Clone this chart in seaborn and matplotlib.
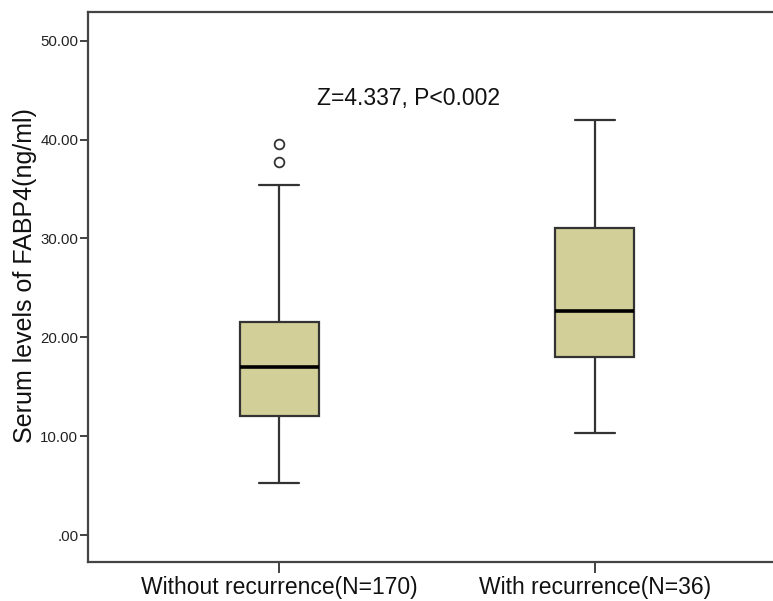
import numpy as np
import pandas as pd
import matplotlib
matplotlib.use("Agg")
import matplotlib.pyplot as plt
import seaborn as sns

# Group labels and five-number summaries (ng/ml)
groups = ["Without recurrence(N=170)", "With recurrence(N=36)"]
whisker_low = [5.3, 10.3]
q1 = [12.0, 18.0]
median = [17.0, 22.7]
q3 = [21.5, 31.1]
whisker_high = [35.4, 42.0]
outliers = [[37.7, 39.5], []]

y_ticks = [0, 10, 20, 30, 40, 50]
y_tick_labels = [".00", "10.00", "20.00", "30.00", "40.00", "50.00"]
annotation = "Z=4.337, P<0.002"
y_label = "Serum levels of FABP4(ng/ml)"

# Expand each summary into a sample whose quartiles reproduce it exactly
rows = []
for g, lo, a, m, b, hi, out in zip(groups, whisker_low, q1, median, q3,
                                   whisker_high, outliers):
    sample = [lo] + [a] * 3 + [m] * 3 + [b] * 3 + [hi] + list(out)
    rows += [(g, v) for v in sample]
df = pd.DataFrame(rows, columns=["group", "value"])

sns.set_theme(style="white")
plt.rcParams["font.family"] = ["Liberation Sans", "DejaVu Sans"]

fig = plt.figure(figsize=(7.73, 6.01), dpi=100)
ax = fig.add_axes([88 / 773, 39 / 601, 698 / 773, 550 / 601])

edge = "#333333"
sns.boxplot(
    data=df, x="group", y="value", order=groups, ax=ax,
    width=0.25, color="#D3CF98", saturation=1,
    linecolor=edge, linewidth=1.6,
    medianprops=dict(color="black", linewidth=2.6),
    flierprops=dict(marker="o", markersize=7, markerfacecolor="white",
                    markeredgecolor=edge, markeredgewidth=1.3),
    whis=1.5,
)

ax.set_xlim(-0.605, 1.605)
ax.set_ylim(-2.73, 52.9)
ax.set_yticks(y_ticks)
ax.set_yticklabels(y_tick_labels, fontsize=10.8, color="#222222")
ax.set_xticks([0, 1])
ax.set_xticklabels(groups, fontsize=16.5, color="#111111")
ax.set_xlabel("")
ax.set_ylabel(y_label, fontsize=18, color="#111111")
ax.yaxis.set_label_coords(-0.073, 0.52)

ax.tick_params(axis="y", direction="out", length=6, width=1.3,
               color="#333333", left=True, pad=1)
ax.tick_params(axis="x", direction="out", length=8, width=1.3,
               color="#333333", bottom=True, pad=2)

for s in ax.spines.values():
    s.set_color("#444444")
    s.set_linewidth(1.6)

ax.text(0.41, 44.2, annotation, ha="center", va="center", fontsize=16.5,
        color="#111111")

fig.savefig("out.png", dpi=100)
